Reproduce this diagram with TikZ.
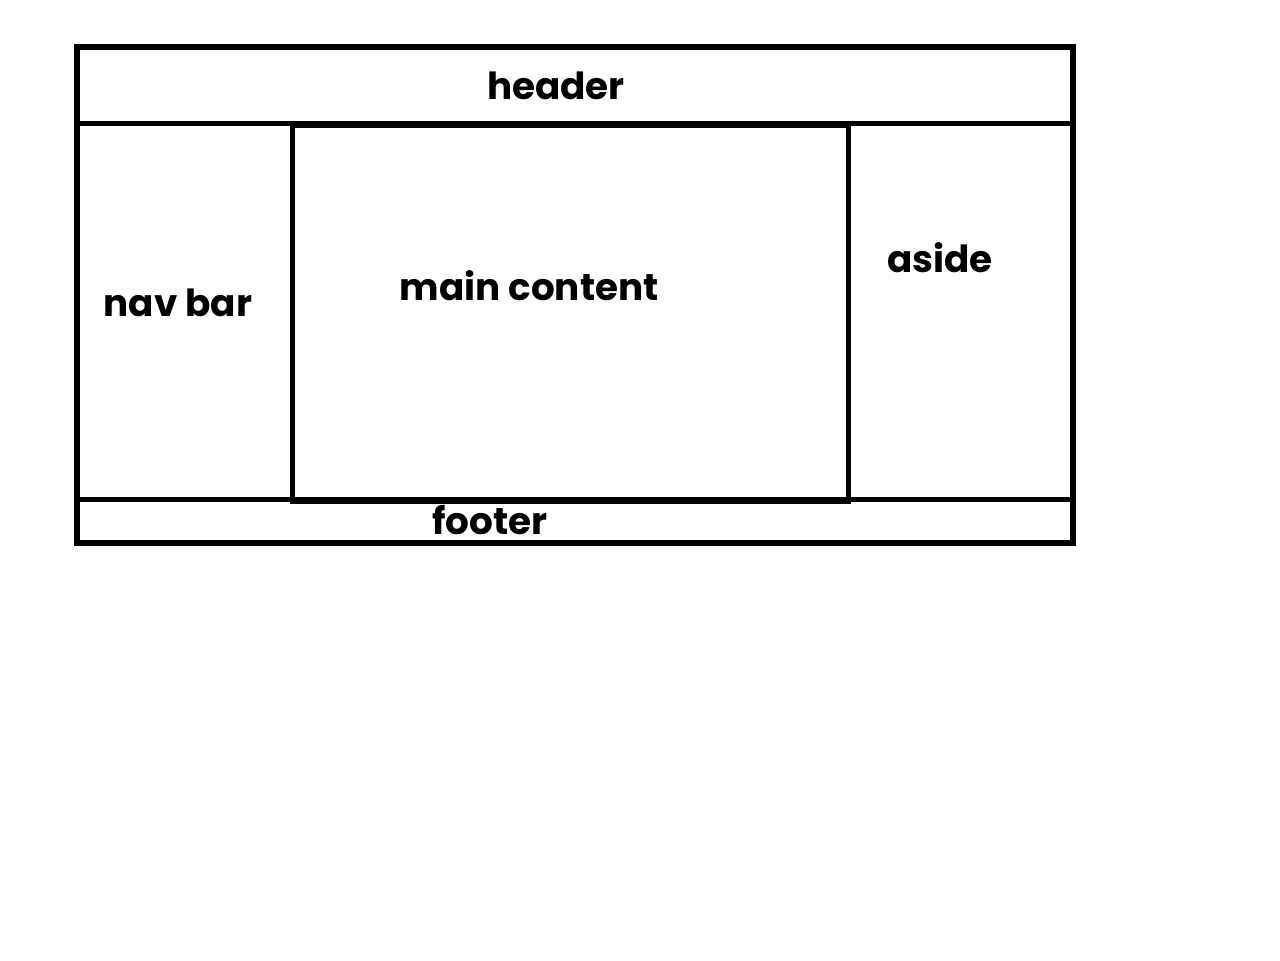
\documentclass[tikz,border=0pt]{standalone}
\usepackage{fontspec}
\setmainfont{Poppins}
\tikzset{every picture/.style={line width=0.75pt}}
\tikzset{
	box line/.style={line width=4.2pt},
	label text/.style={font=\bfseries\fontsize{28}{32}\selectfont, inner sep=0pt}}

\begin{document}
\begin{tikzpicture}[x=0.75pt,y=0.75pt,yscale=-1,xscale=1]
	\useasboundingbox (0,0) rectangle (1280,960);

	%Shape: Rectangle [id:outer] 
	\draw [box line] (77,47) rectangle (1073,543) ;
	%Straight Lines [id:headerline] 
	\draw [box line] (77,123.5) -- (1073,123.5) ;
	%Straight Lines [id:footerline] 
	\draw [box line] (78,499.5) -- (1073,499.5) ;
	%Shape: Rectangle [id:mainbox] 
	\draw [box line] (292.5,125) rectangle (848.5,501) ;

	% Text Node
	\draw (556,86) node [label text] (header) {header};
	% Text Node
	\draw (178,303) node [label text] (nav) {nav bar};
	% Text Node
	\draw (529,286) node [label text] (main) {main content};
	% Text Node
	\draw (940,258) node [label text] (aside) {aside};
	% Text Node
	\draw (490,520) node [label text] (footer) {footer};

\end{tikzpicture}
\end{document}
